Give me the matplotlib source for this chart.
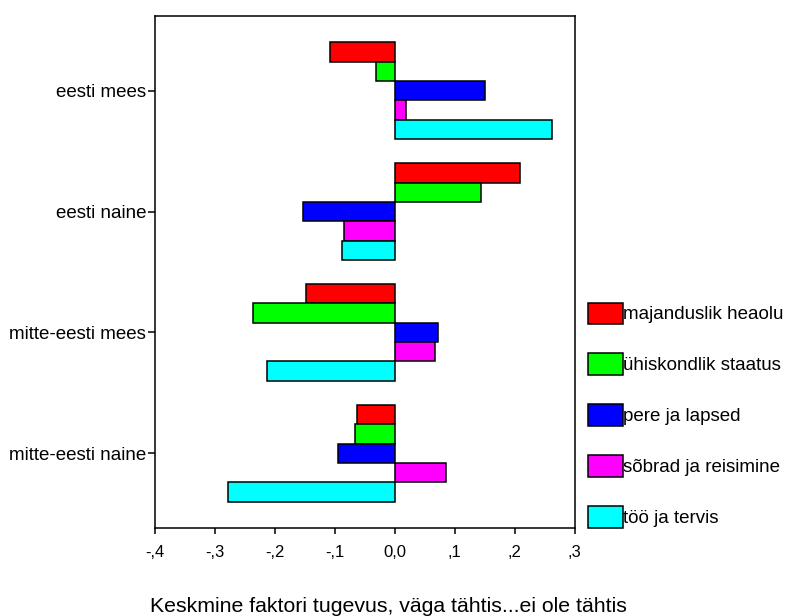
import matplotlib
matplotlib.use("Agg")
import matplotlib.pyplot as plt
import numpy as np

plt.rcParams['font.family'] = ['Liberation Sans', 'DejaVu Sans']

categories = ["eesti mees", "eesti naine", "mitte-eesti mees", "mitte-eesti naine"]
series_names = ["majanduslik heaolu", "ühiskondlik staatus", "pere ja lapsed",
                "sõbrad ja reisimine", "töö ja tervis"]
series_colors = ["#FF0000", "#00FF00", "#0000FF", "#FF00FF", "#00FFFF"]

majanduslik = [-0.108, 0.209, -0.148, -0.063]
uhiskondlik = [-0.031, 0.144, -0.236, -0.066]
pere = [0.150, -0.153, 0.073, -0.094]
sobrad = [0.019, -0.085, 0.068, 0.085]
too = [0.263, -0.088, -0.213, -0.278]
series_values = [majanduslik, uhiskondlik, pere, sobrad, too]

xticks = [-0.4, -0.3, -0.2, -0.1, 0.0, 0.1, 0.2, 0.3]
xticklabels = ["-,4", "-,3", "-,2", "-,1", "0,0", ",1", ",2", ",3"]
xlabel = "Keskmine faktori tugevus, väga tähtis...ei ole tähtis"

fig = plt.figure(figsize=(7.88, 6.16), dpi=100)
ax = fig.add_axes([0.1963, 0.1424, 0.5330, 0.8321])

y = np.arange(len(categories))
h = 0.16
for j, (name, vals, col) in enumerate(zip(series_names, series_values, series_colors)):
    ax.barh(y + (j - 2) * h, vals, height=h, color=col, edgecolor="black",
            linewidth=1.1, label=name)

ax.set_xlim(-0.4, 0.3)
ax.set_ylim(3.62, -0.62)
ax.set_xticks(xticks)
ax.set_xticklabels(xticklabels, fontsize=12)
ax.set_yticks(y)
ax.set_yticklabels(categories, fontsize=13.5)
ax.tick_params(axis='x', direction='out', length=4, width=1.1, pad=8)
ax.tick_params(axis='y', direction='out', length=5, width=1.1, pad=1)
for s in ax.spines.values():
    s.set_linewidth(1.1)

fig.text(0.4924, 4 / 616, xlabel, ha='center', va='baseline', fontsize=15.3)

fs = 13.5
fpx = fs * 100 / 72
leg = ax.legend(loc='upper left', bbox_to_anchor=(588 / 788, 1 - 302.5 / 616),
                bbox_transform=fig.transFigure, frameon=False, fontsize=fs,
                handlelength=35 / fpx, handleheight=26 / fpx,
                handletextpad=0.0,
                labelspacing=29.5 / fpx, borderpad=0, borderaxespad=0)

fig.savefig("out.png", dpi=100)
